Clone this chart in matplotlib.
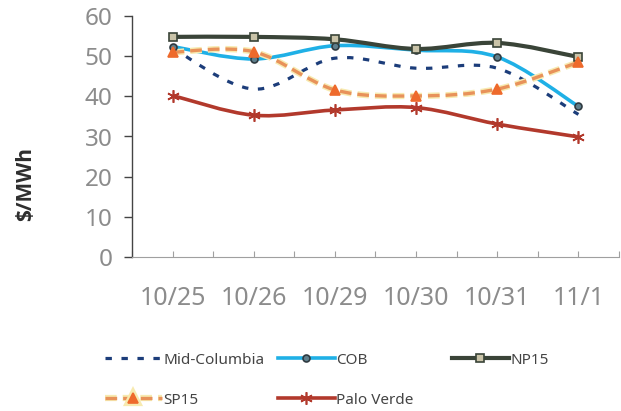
import numpy as np
import matplotlib
matplotlib.use("Agg")
import matplotlib.pyplot as plt
from matplotlib.path import Path
from matplotlib.patches import PathPatch
from matplotlib.lines import Line2D
import matplotlib.patheffects as pe

# data
dates = ["10/25", "10/26", "10/29", "10/30", "10/31", "11/1"]
mid_columbia = [52.0, 41.8, 49.5, 47.0, 47.0, 35.5]
cob = [52.4, 49.3, 52.6, 51.5, 49.8, 37.5]
np15 = [54.8, 54.8, 54.2, 51.8, 53.3, 49.8]
sp15 = [51.0, 51.1, 41.6, 40.1, 41.8, 48.5]
palo_verde = [40.2, 35.3, 36.6, 37.2, 33.1, 29.9]

plt.rcParams['font.family'] = ['Noto Sans', 'DejaVu Sans']

W, H = 621, 411
fig = plt.figure(figsize=(W / 100, H / 100), dpi=100)
ax = fig.add_axes([132 / W, 1 - 257 / H, (619 - 132) / W, (257 - 16) / H])

x = np.arange(len(dates))


def smooth_path(xs, ys):
    # excel style smoothed line: bezier segments through the points
    pts = np.column_stack([xs, ys]).astype(float)
    n = len(pts)
    verts = [pts[0]]
    codes = [Path.MOVETO]
    for i in range(n - 1):
        p0 = pts[max(i - 1, 0)]
        p1 = pts[i]
        p2 = pts[i + 1]
        p3 = pts[min(i + 2, n - 1)]
        c1 = p1 + (p2 - p0) / 6.0
        c2 = p2 - (p3 - p1) / 6.0
        verts += [c1, c2, p2]
        codes += [Path.CURVE4] * 3
    return Path(verts, codes)


series = [
    # name, values, color, lw, linestyle, marker, msize, mface, medge, effects
    ("Mid-Columbia", mid_columbia, "#1c3d7a", 2.3, (0, (2.0, 3.0)), None, 0, None, None, None),
    ("COB", cob, "#1fb0e6", 2.6, "-", "o", 5, "#5f7f8c", "#2f3a40", None),
    ("NP15", np15, "#3a4438", 3.0, "-", "s", 5.5, "#c9c3a8", "#3a4438", None),
    ("SP15", sp15, "#e8925a", 2.4, (0, (3.5, 1.8)), "^", 7, "#ee6a2c", "#ee6a2c",
     [pe.Stroke(linewidth=4.5, foreground="#f7eab0"), pe.Normal()]),
    ("Palo Verde", palo_verde, "#b2392c", 2.6, "-", (6, 2, 0), 9, "#b2392c", "#b2392c", None),
]

handles = []
for name, vals, col, lw, ls, mk, ms, mf, me, eff in series:
    patch = PathPatch(smooth_path(x, vals), fill=False, edgecolor=col, lw=lw,
                      linestyle=ls, capstyle="butt", zorder=3)
    if eff:
        patch.set_path_effects(eff)
    ax.add_patch(patch)
    if mk is not None:
        ax.plot(x, vals, linestyle="none", marker=mk, markersize=ms,
                markerfacecolor=mf, markeredgecolor=me, markeredgewidth=1.2, zorder=4)
    h = Line2D([], [], color=col, lw=lw, linestyle=ls, marker=mk, markersize=ms,
               markerfacecolor=mf, markeredgecolor=me, markeredgewidth=1.2,
               dash_capstyle="butt")
    if eff:
        h.set_path_effects(eff)
    handles.append((name, h))

ax.set_xlim(-0.5, len(dates) - 0.5)
ax.set_ylim(0, 60)
ax.set_yticks(range(0, 61, 10))
ax.set_xticks(x)
ax.set_xticks(np.arange(-0.5, len(dates), 1.0), minor=True)
ax.set_xticklabels(dates)

for s in ["top", "right"]:
    ax.spines[s].set_visible(False)
ax.spines["left"].set_color("#444444")
ax.spines["left"].set_linewidth(1.0)
ax.spines["bottom"].set_color("#a0a0a0")
ax.spines["bottom"].set_linewidth(0.8)

ax.tick_params(axis="y", direction="out", length=6, width=1, color="#444444",
               labelsize=17.5, labelcolor="#8c8c8c", pad=8)
ax.tick_params(axis="x", which="both", direction="in", length=4, width=0.8,
               color="#a0a0a0")
ax.tick_params(axis="x", which="major", labelsize=18, labelcolor="#8c8c8c", pad=21)

fig.text(26 / W, 1 - 184 / H, "$/MWh", rotation=90, ha="center", va="center",
         fontsize=15, fontweight="bold", color="#2e2e2e",
         family=["Open Sans", "DejaVu Sans"])

# legend entries placed like the original layout
legend_pos = {
    "Mid-Columbia": (105, 360),
    "COB": (278, 360),
    "NP15": (452, 360),
    "SP15": (105, 400),
    "Palo Verde": (278, 400),
}
for name, h in handles:
    px, py = legend_pos[name]
    leg = fig.legend(handles=[h], labels=[name], loc="center left",
                     bbox_to_anchor=(px / W, 1 - py / H), frameon=False,
                     borderpad=0, borderaxespad=0, handletextpad=0.1,
                     handlelength=3.7, numpoints=1, fontsize=11)
    for t in leg.get_texts():
        t.set_color("#444444")

fig.savefig("out.png", dpi=100)
